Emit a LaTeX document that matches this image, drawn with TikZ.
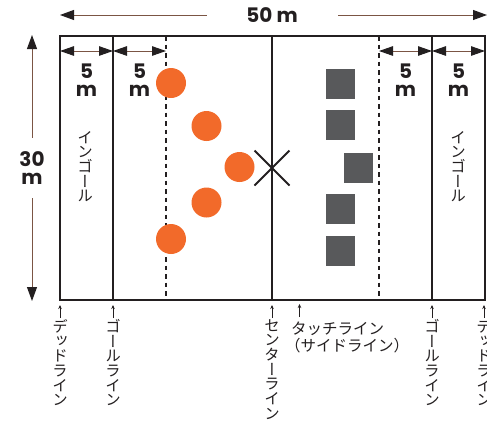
\documentclass[tikz,border=0pt]{standalone}
\usepackage{fontspec}
\usepackage{graphicx}
\usetikzlibrary{arrows.meta}
\newfontfamily\jp{Noto Sans CJK JP}
\newfontfamily\jpv{Noto Sans CJK JP}[RawFeature={+vert}]
\newfontfamily\numf{Poppins}
\definecolor{lineblk}{HTML}{231F20}
\definecolor{orng}{HTML}{F26A2A}
\definecolor{grayb}{HTML}{58595B}
\definecolor{brwn}{HTML}{7B5544}
\begin{document}
\begin{tikzpicture}[x=1pt,y=-1pt,
  fieldline/.style={draw=lineblk,line width=2.2pt},
  dashline/.style={draw=lineblk,line width=2.4pt,dash pattern=on 4.5pt off 4pt},
  dimarrow/.style={draw=brwn,line width=1pt,{Triangle[length=14pt,width=9.5pt,color=lineblk]}-{Triangle[length=14pt,width=9.5pt,color=lineblk]}},
  dimleft/.style={draw=brwn,line width=1pt,{Triangle[length=14pt,width=10pt,color=lineblk]}-},
  dimright/.style={draw=brwn,line width=1pt,-{Triangle[length=14pt,width=10pt,color=lineblk]}},
  dimtext/.style={font=\numf\bfseries\fontsize{20}{17.5}\selectfont,text=lineblk,align=center,inner sep=0pt},
  player/.style={circle,fill=orng,minimum size=30pt,inner sep=0pt},
  opp/.style={rectangle,fill=grayb,minimum size=29.5pt,inner sep=0pt},
  crossline/.style={draw=lineblk,line width=2pt},
  labarrow/.style={draw=lineblk,line width=0.6pt,-{Stealth[length=4pt,width=3.5pt]}},
  vlabel/.style={font=\jpv\fontsize{15.5}{14.7}\selectfont,text=lineblk,align=center,inner sep=0pt,anchor=north},
  hlabel/.style={font=\jp\fontsize{15.5}{16}\selectfont,text=lineblk,inner sep=0pt}
]
\useasboundingbox (0,0) rectangle (487,424);
% field coordinates
\coordinate (tl) at (60,36);
\coordinate (br) at (485,300);
\coordinate (gl1t) at (113,36); \coordinate (gl1b) at (113,300);
\coordinate (gl2t) at (432,36); \coordinate (gl2b) at (432,300);
\coordinate (clt) at (272,36); \coordinate (clb) at (272,300);
\coordinate (d1t) at (166,36); \coordinate (d1b) at (166,300);
\coordinate (d2t) at (379,36); \coordinate (d2b) at (379,300);
% dashed lines
\draw[dashline] (d1t) -- (d1b);
\draw[dashline] (d2t) -- (d2b);
% field
\draw[fieldline] (tl) rectangle (br);
\draw[fieldline] (gl1t) -- (gl1b);
\draw[fieldline] (gl2t) -- (gl2b);
\draw[fieldline] (clt) -- (clb);
% 5 m dimension arrows
\coordinate (a0) at (60,51); \coordinate (a1) at (113,51); \coordinate (a2) at (166,51);
\coordinate (a3) at (379,51); \coordinate (a4) at (432,51); \coordinate (a5) at (485,51);
\draw[dimarrow] (a0) -- (a1);
\draw[dimarrow] (a1) -- (a2);
\draw[dimarrow] (a3) -- (a4);
\draw[dimarrow] (a4) -- (a5);
\node[dimtext] (f1) at (86.5,80) {5\\m};
\node[dimtext] (f2) at (139.5,80) {5\\m};
\node[dimtext] (f3) at (405.5,80) {5\\m};
\node[dimtext] (f4) at (458.5,80) {5\\m};
% 50 m
\coordinate (w0) at (60,15); \coordinate (w1) at (207,15);
\coordinate (w2) at (338,15); \coordinate (w3) at (487,15);
\node[dimtext] (fifty) at (272,15) {50 m};
\draw[dimleft] (w0) -- (w1);
\draw[dimright] (w2) -- (w3);
% 30 m
\coordinate (h0) at (32,35); \coordinate (h1) at (32,138);
\coordinate (h2) at (32,198); \coordinate (h3) at (32,301);
\node[dimtext] (thirty) at (32,168) {30\\m};
\draw[dimleft] (h0) -- (h1);
\draw[dimright] (h2) -- (h3);
% players
\node[player] (p1) at (171,83) {};
\node[player] (p2) at (206.5,126) {};
\node[player] (p3) at (239.5,167) {};
\node[player] (p4) at (206.5,202.5) {};
\node[player] (p5) at (171,239) {};
% opponents
\node[opp] (q1) at (340.5,84) {};
\node[opp] (q2) at (340.5,125) {};
\node[opp] (q3) at (358.5,168) {};
\node[opp] (q4) at (340.5,209) {};
\node[opp] (q5) at (340.5,251) {};
% cross
\coordinate (x0) at (272,168);
\draw[crossline] (x0) ++(-17.5,-17.5) -- ++(35,35);
\draw[crossline] (x0) ++(-17.5,17.5) -- ++(35,-35);
% in-goal labels
\node[vlabel] (ig1) at (85,131) {イ\\ン\\ゴ\\ー\\ル};
\node[vlabel] (ig2) at (458,131) {イ\\ン\\ゴ\\ー\\ル};
% bottom labels
\coordinate (b1) at (60,318); \coordinate (b1t) at (60,305);
\coordinate (b2) at (113,318); \coordinate (b2t) at (113,305);
\coordinate (b3) at (272,318); \coordinate (b3t) at (272,305);
\coordinate (b4) at (299.5,317); \coordinate (b4t) at (299.5,304);
\coordinate (b5) at (432,318); \coordinate (b5t) at (432,305);
\coordinate (b6) at (484,318); \coordinate (b6t) at (484,305);
\draw[labarrow] (b1) -- (b1t);
\draw[labarrow] (b2) -- (b2t);
\draw[labarrow] (b3) -- (b3t);
\draw[labarrow] (b4) -- (b4t);
\draw[labarrow] (b5) -- (b5t);
\draw[labarrow] (b6) -- (b6t);
\node[vlabel] (l1) at (60,319) {デ\\ッ\\ド\\ラ\\イ\\ン};
\node[vlabel] (l2) at (113,319) {ゴ\\ー\\ル\\ラ\\イ\\ン};
\node[vlabel] (l3) at (272,319) {セ\\ン\\タ\\ー\\ラ\\イ\\ン};
\node[vlabel] (l5) at (432,319) {ゴ\\ー\\ル\\ラ\\イ\\ン};
\node[vlabel] (l6) at (484,319) {デ\\ッ\\ド\\ラ\\イ\\ン};
\node[hlabel] (tl1) at (337.5,329) {タッチライン};
\node[hlabel] (tl2) at (347,346) {（サイドライン）};
\end{tikzpicture}
\end{document}
